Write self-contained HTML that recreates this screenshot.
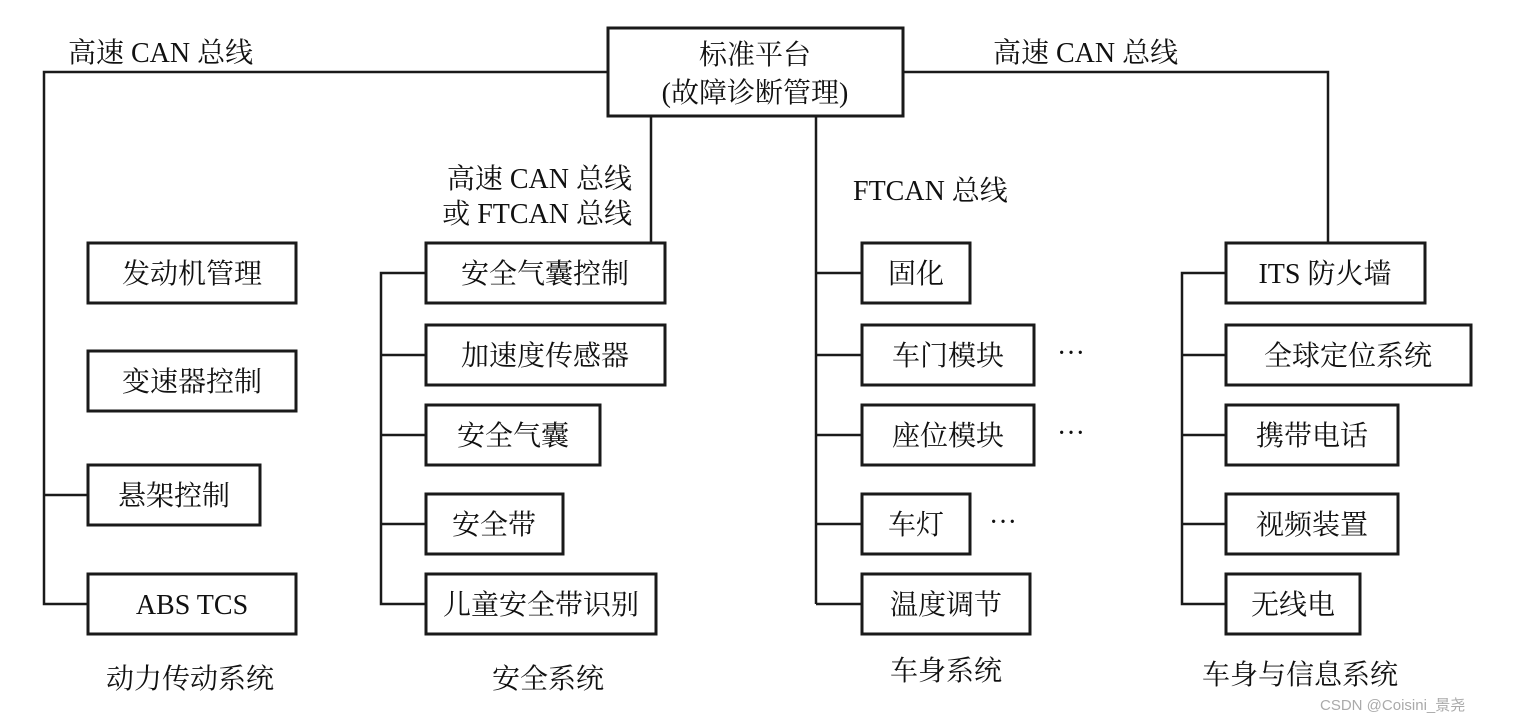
<!DOCTYPE html>
<html><head><meta charset="utf-8"><style>
html,body{margin:0;padding:0;background:#fff}
svg{display:block}
text{font-family:"Liberation Serif","Noto Serif CJK SC",serif;font-size:28px;fill:#111}
</style></head><body>
<svg width="1516" height="721" viewBox="0 0 1516 721">
<g fill="none" stroke="#1a1a1a" stroke-width="2.5">
<!-- top connections -->
<polyline points="608,72 44,72 44,604 88,604"/>
<line x1="44" y1="495" x2="88" y2="495"/>
<polyline points="903,72 1328,72 1328,243"/>
<line x1="651" y1="116" x2="651" y2="243"/>
<line x1="816" y1="116" x2="816" y2="604"/>
<line x1="816" y1="273" x2="862" y2="273"/>
<line x1="816" y1="355" x2="862" y2="355"/>
<line x1="816" y1="435" x2="862" y2="435"/>
<line x1="816" y1="524" x2="862" y2="524"/>
<line x1="816" y1="604" x2="862" y2="604"/>
<!-- safety -->
<polyline points="426,273 381,273 381,604 426,604"/>
<line x1="381" y1="355" x2="426" y2="355"/>
<line x1="381" y1="435" x2="426" y2="435"/>
<line x1="381" y1="524" x2="426" y2="524"/>
<!-- right -->
<polyline points="1226,273 1182,273 1182,604 1226,604"/>
<line x1="1182" y1="355" x2="1226" y2="355"/>
<line x1="1182" y1="435" x2="1226" y2="435"/>
<line x1="1182" y1="524" x2="1226" y2="524"/>
</g>
<g fill="#fff" stroke="#1a1a1a" stroke-width="3">
<rect x="608" y="28" width="295" height="88"/>
<rect x="88" y="243" width="208" height="60"/>
<rect x="88" y="351" width="208" height="60"/>
<rect x="88" y="465" width="172" height="60"/>
<rect x="88" y="574" width="208" height="60"/>
<rect x="426" y="243" width="239" height="60"/>
<rect x="426" y="325" width="239" height="60"/>
<rect x="426" y="405" width="174" height="60"/>
<rect x="426" y="494" width="137" height="60"/>
<rect x="426" y="574" width="230" height="60"/>
<rect x="862" y="243" width="108" height="60"/>
<rect x="862" y="325" width="172" height="60"/>
<rect x="862" y="405" width="172" height="60"/>
<rect x="862" y="494" width="108" height="60"/>
<rect x="862" y="574" width="168" height="60"/>
<rect x="1226" y="243" width="199" height="60"/>
<rect x="1226" y="325" width="245" height="60"/>
<rect x="1226" y="405" width="172" height="60"/>
<rect x="1226" y="494" width="172" height="60"/>
<rect x="1226" y="574" width="134" height="60"/>
</g>
<g text-anchor="middle">
<text x="755" y="64">标准平台</text>
<text x="755" y="102">(故障诊断管理)</text>
<text x="192" y="283">发动机管理</text>
<text x="192" y="391">变速器控制</text>
<text x="174" y="505">悬架控制</text>
<text x="192" y="614">ABS TCS</text>
<text x="545" y="283">安全气囊控制</text>
<text x="545" y="365">加速度传感器</text>
<text x="513" y="445">安全气囊</text>
<text x="494" y="534">安全带</text>
<text x="541" y="614">儿童安全带识别</text>
<text x="916" y="283">固化</text>
<text x="948" y="365">车门模块</text>
<text x="948" y="445">座位模块</text>
<text x="916" y="534">车灯</text>
<text x="946" y="614">温度调节</text>
<text x="1325" y="283">ITS 防火墙</text>
<text x="1348" y="365">全球定位系统</text>
<text x="1312" y="445">携带电话</text>
<text x="1312" y="534">视频装置</text>
<text x="1293" y="614">无线电</text>
<text x="190" y="688">动力传动系统</text>
<text x="548" y="688">安全系统</text>
<text x="946" y="680">车身系统</text>
<text x="1300" y="684">车身与信息系统</text>
<text x="1071" y="362">···</text>
<text x="1071" y="442">···</text>
<text x="1003" y="531">···</text>
</g>
<text x="68" y="62">高速 CAN 总线</text>
<text x="993" y="62">高速 CAN 总线</text>
<text x="632" y="188" text-anchor="end">高速 CAN 总线</text>
<text x="632" y="223" text-anchor="end">或 FTCAN 总线</text>
<text x="853" y="200">FTCAN 总线</text>
<text x="1320" y="710" style="font-family:'Liberation Sans','Noto Sans CJK SC',sans-serif;font-size:15px;fill:#aaa">CSDN @Coisini_景尧</text>
</svg>
</body></html>
